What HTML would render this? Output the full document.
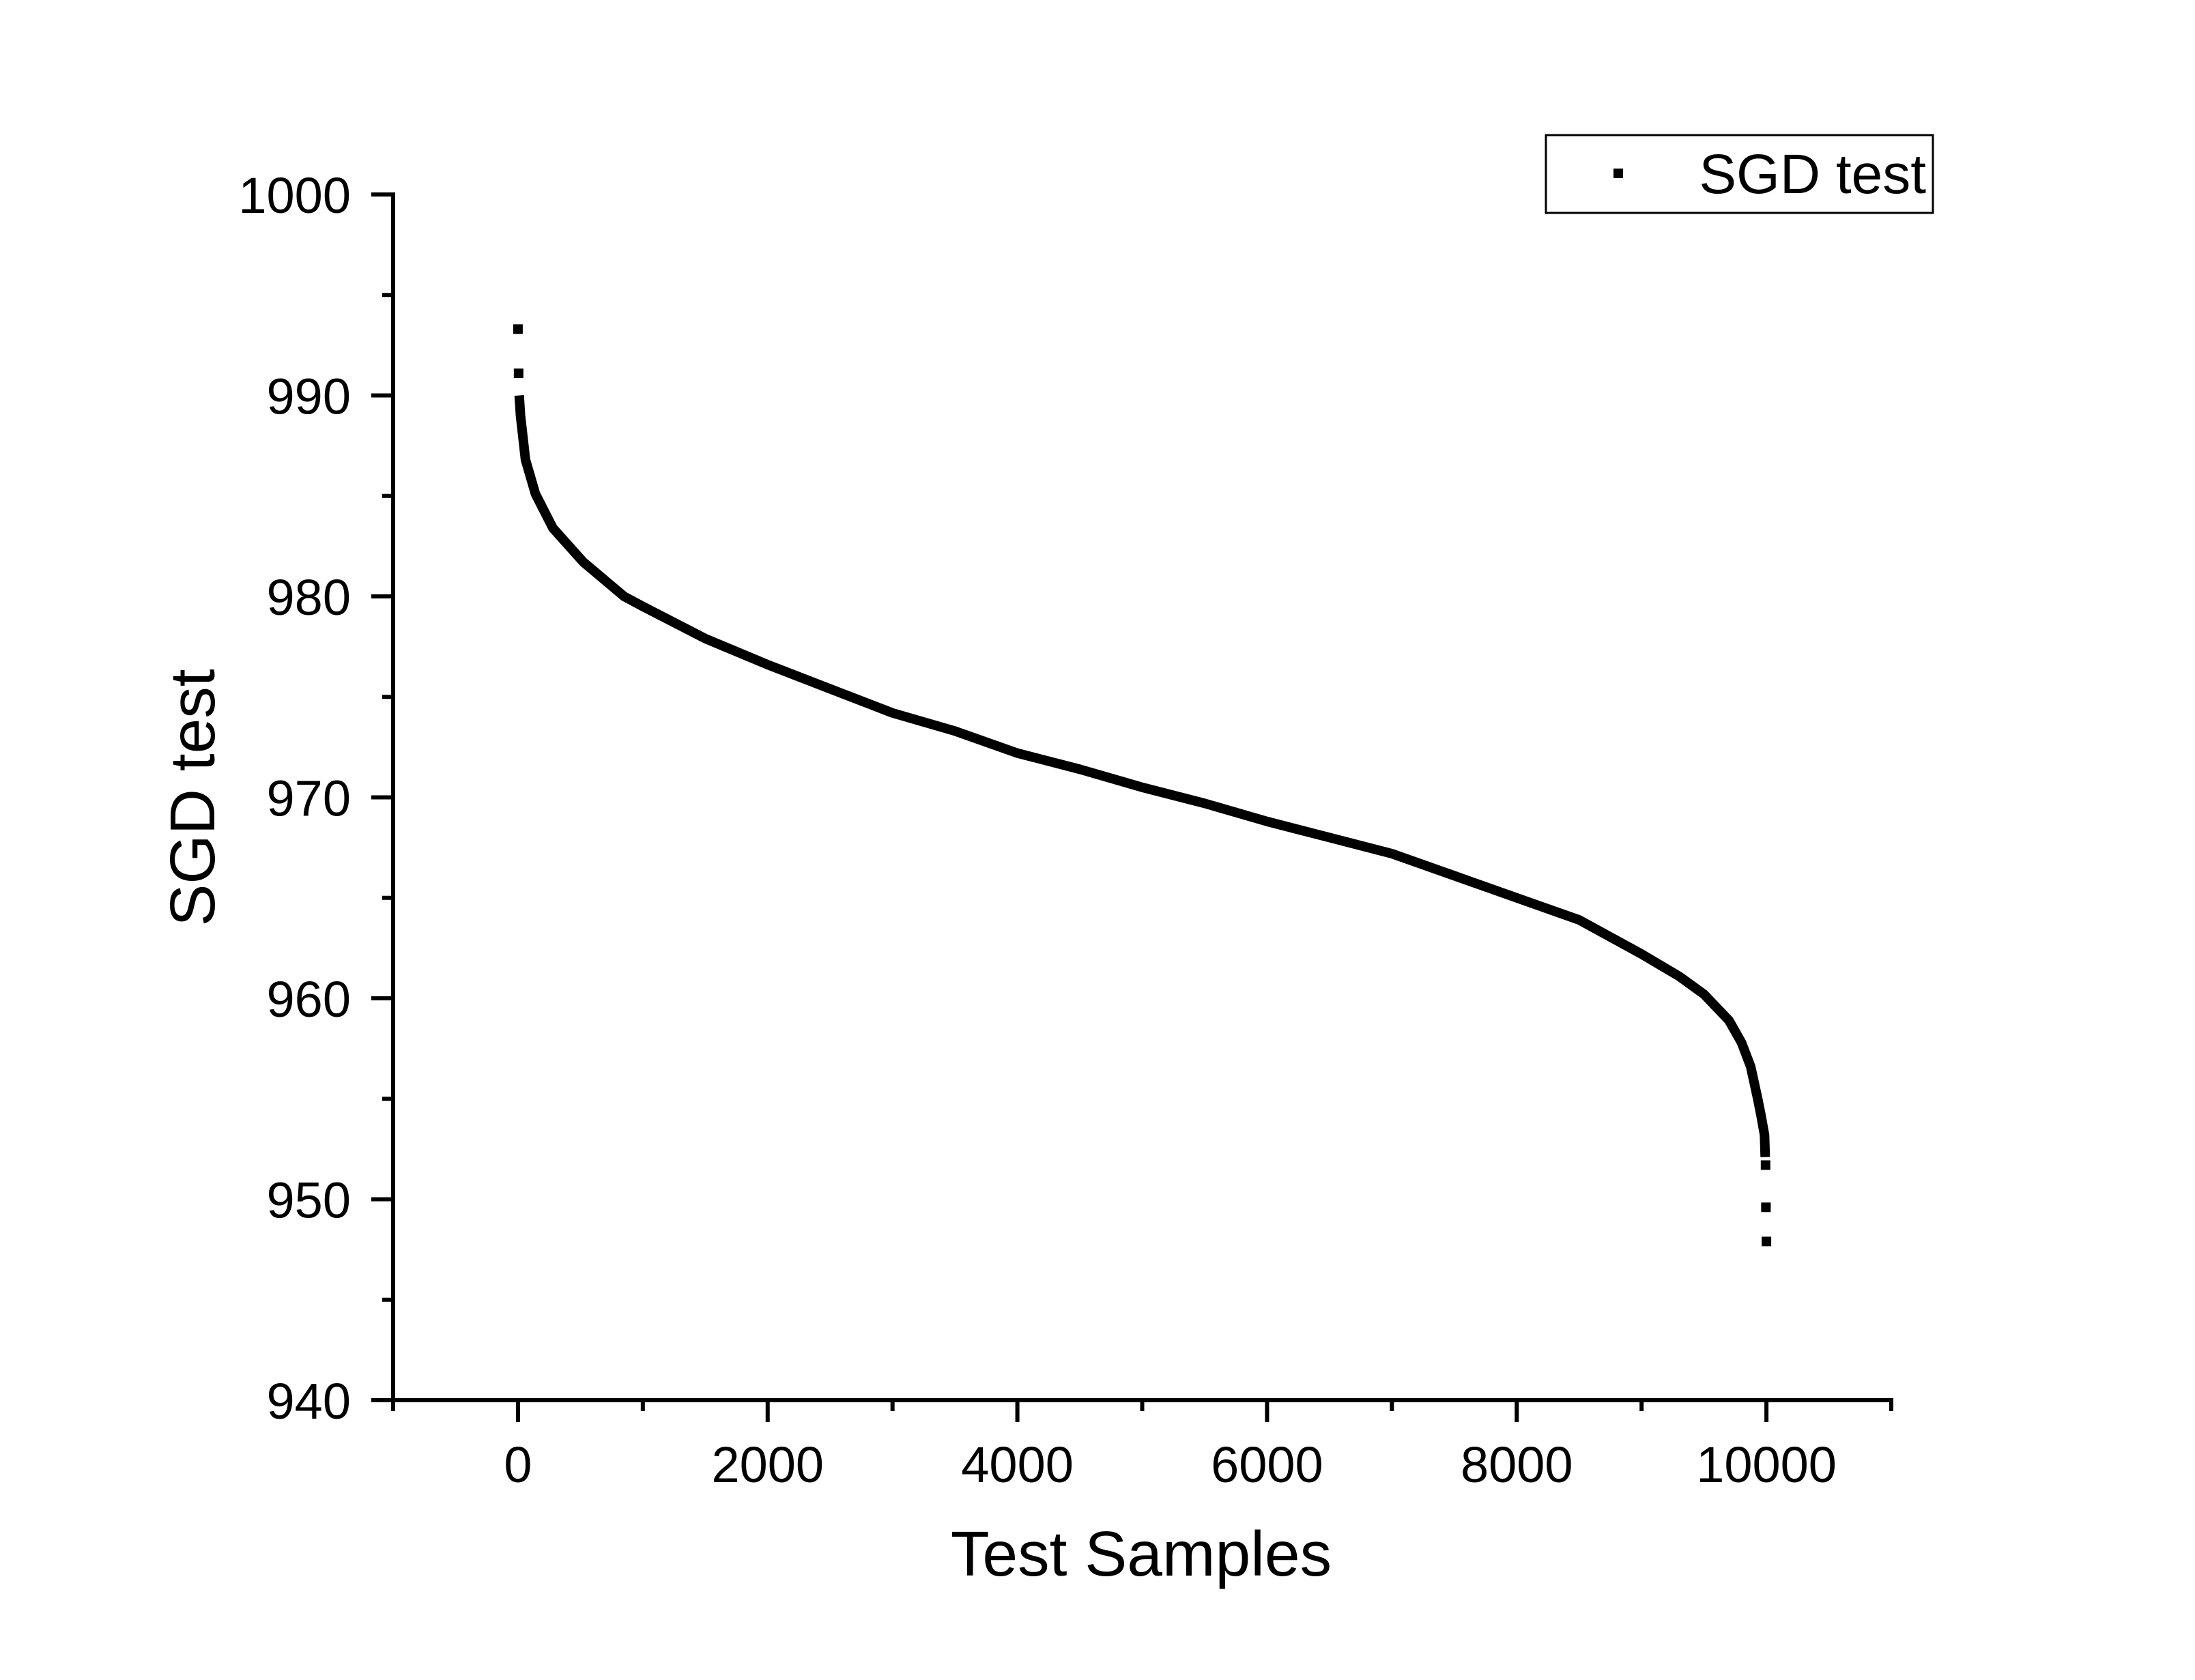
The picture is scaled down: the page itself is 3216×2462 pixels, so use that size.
<!DOCTYPE html>
<html><head><meta charset="utf-8"><style>
html,body{margin:0;padding:0;background:#fff;}
svg{display:block;font-family:"Liberation Sans",Arial,sans-serif;}
</style></head><body>
<svg id="chart" width="3216" height="2462" viewBox="0 0 3216 2462" xmlns="http://www.w3.org/2000/svg">
<rect width="3216" height="2462" fill="#fff"/>
<g id="axes"></g>
<g id="series"></g>
<text x="1672" y="2309" font-size="93" text-anchor="middle">Test Samples</text>
<text x="0" y="0" font-size="93" text-anchor="middle" transform="translate(314,1169) rotate(-90)">SGD test</text>
<g>
<rect x="2265" y="198" width="567" height="114" fill="#fff" stroke="#000" stroke-width="3"/>
<rect x="2364" y="247" width="14" height="14" fill="#000"/>
<text x="2822" y="283" font-size="82" text-anchor="end">SGD test</text>
</g>
</svg>
<script>
const curveSamples = [10,20,60,140,280,525,850,1000,1500,2000,2500,3000,3500,4000,4500,5000,5500,6000,6500,7000,7500,8000,8500,9000,9300,9500,9700,9800,9874,9930,9956,9985,9990];
const curveValues  = [990.0,989.0,986.8,985.1,983.4,981.7,980.0,979.5,977.9,976.6,975.4,974.2,973.3,972.2,971.4,970.5,969.7,968.8,968.0,967.2,966.1,965.0,963.9,962.2,961.1,960.2,958.9,957.8,956.6,955.0,954.2,953.2,952.1];
const pointSamples = [0,5,9993,9996,10000];
const pointValues  = [993.3,991.1,951.7,949.6,947.9];
const xMajorTicks = [0,2000,4000,6000,8000,10000];
const xMinorTicks = [-1000,1000,3000,5000,7000,9000,11000];
const yMajorTicks = [940,950,960,970,980,990,1000];
const yMinorTicks = [945,955,965,975,985,995];

const X0=-1000,X1=11000,Y0=940,Y1=1000;
const PX0=576,PX1=2771,PY0=2052,PY1=285;
function sx(v){return PX0+(v-X0)/(X1-X0)*(PX1-PX0);}
function sy(v){return PY0-(v-Y0)/(Y1-Y0)*(PY0-PY1);}
const NS="http://www.w3.org/2000/svg";
const axes=document.getElementById('axes');
const series=document.getElementById('series');
function mk(tag,attrs,parent){const e=document.createElementNS(NS,tag);for(const k in attrs)e.setAttribute(k,attrs[k]);parent.appendChild(e);return e;}

let yl=mk('line',{x1:PX0,y1:PY0+3,x2:PX0,y2:PY1-3,stroke:'#000','stroke-width':6},axes);


let xl=mk('line',{x1:PX0-3,y1:PY0,x2:PX1+3,y2:PY0,stroke:'#000','stroke-width':6},axes);



yMajorTicks.forEach(v=>{
  const y=sy(v);
  let t=mk('line',{x1:PX0-32,y1:y,x2:PX0,y2:y,stroke:'#000','stroke-width':6},axes);
  
  
  let l=mk('text',{x:514,y:y+27,'font-size':74,'text-anchor':'end'},axes);
  l.textContent=v;
  
  
});
yMinorTicks.forEach(v=>{
  const y=sy(v);
  let t=mk('line',{x1:PX0-16,y1:y,x2:PX0,y2:y,stroke:'#000','stroke-width':6},axes);
  
  
});
xMajorTicks.forEach(v=>{
  const x=sx(v);
  let t=mk('line',{x1:x,y1:PY0,x2:x,y2:PY0+32,stroke:'#000','stroke-width':6},axes);
  
  
  let l=mk('text',{x:x,y:2172,'font-size':74,'text-anchor':'middle'},axes);
  l.textContent=v;
  
  
});
xMinorTicks.forEach(v=>{
  const x=sx(v);
  let t=mk('line',{x1:x,y1:PY0,x2:x,y2:PY0+16,stroke:'#000','stroke-width':6},axes);
  
  
});

const pts=curveSamples.map((s,i)=>sx(s).toFixed(1)+','+sy(curveValues[i]).toFixed(1)).join(' ');
let pl=mk('polyline',{points:pts,fill:'none',stroke:'#000','stroke-width':14,'stroke-linejoin':'round','stroke-linecap':'butt'},series);


pointSamples.forEach((s,i)=>{
  let r=mk('rect',{x:sx(s)-7,y:sy(pointValues[i])-7,width:14,height:14,fill:'#000'},series);
  
  
});
</script>
</body></html>
